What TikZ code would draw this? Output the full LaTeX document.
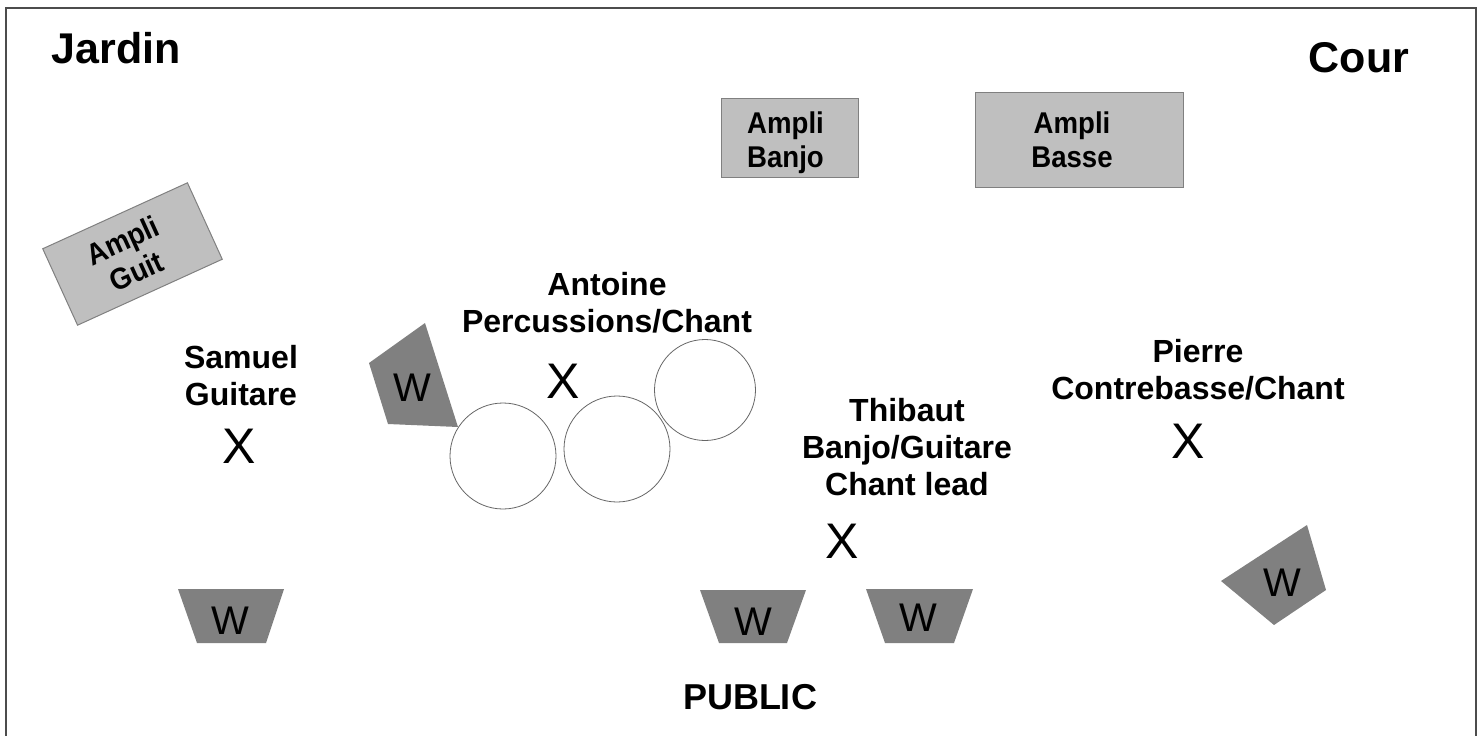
\documentclass[tikz,border=0pt]{standalone}
\usepackage{fontspec}
\setmainfont{Liberation Sans}
\newfontfamily\amplifont[FakeStretch=0.92]{Liberation Sans}
\begin{document}
\begin{tikzpicture}[x=1pt,y=-1pt,
  side/.style={font=\fontsize{43}{50}\selectfont\bfseries},
  lbl/.style={font=\fontsize{32}{37}\selectfont\bfseries, align=center, inner sep=0},
  amplibox/.style={draw=gray, fill=black!25, line width=1pt, inner sep=0},
  amplitxt/.style={inner sep=0, align=center, font=\amplifont\fontsize{30}{34}\selectfont\bfseries},
  wedge/.style={fill=black!50},
  wlbl/.style={font=\fontsize{40}{40}\selectfont, inner sep=0},
  cross/.style={font=\fontsize{50}{50}\selectfont, inner sep=0},
  drum/.style={circle, draw=black!60, fill=white, line width=0.8pt, minimum size=106pt, inner sep=0}]
\useasboundingbox (0,0) rectangle (1484,736);
\draw[black!70, line width=1.2pt] (6,736) -- (6,8) -- (1476,8) -- (1476,736);

\node[side] (jardin) at (116,48) {Jardin};
\node[side] (cour) at (1359,58) {Cour};

% amplis
\node[amplibox, minimum width=137pt, minimum height=79pt] (abanjo) at (789.5,137.5) {};
\node[amplitxt] (tbanjo) at ([shift={(-4,5)}]abanjo.center) {Ampli\\Banjo};
\node[amplibox, minimum width=208pt, minimum height=95pt] (abasse) at (1079,140) {};
\node[amplitxt] (tbasse) at ([shift={(-7,0)}]abasse.center) {Ampli\\Basse};
\node[amplibox, minimum width=159pt, minimum height=84pt, rotate=24.5] (aguit) at (132.5,254) {};
\node[amplitxt, rotate=24.5] (tguit) at ([shift={(-3,2)}]aguit.center) {Ampli\\Guit};

% retours
\fill[wedge] (178,589) -- (284,589) -- (266,643) -- (197,643) -- cycle;
\node[wlbl] (w1) at (230,621) {W};
\fill[wedge] (700,590) -- (806,590) -- (787,643) -- (719,643) -- cycle;
\node[wlbl] (w2) at (753,622) {W};
\fill[wedge] (866,589) -- (973,589) -- (954,643) -- (885,643) -- cycle;
\node[wlbl] (w3) at (918,618) {W};
\fill[wedge] (1221,581) -- (1307,525) -- (1326,590) -- (1274,625) -- cycle;
\node[wlbl] (w4) at (1282,583) {W};
\fill[wedge] (369,363) -- (425,323) -- (458,427) -- (388,424) -- cycle;
\node[wlbl] (w5) at (412,388) {W};

% percussions
\node[drum] (drumA) at (503,456) {};
\node[drum] (drumB) at (617,449) {};
\node[drum, minimum size=101pt] (drumC) at (705,390) {};

% musiciens
\node[lbl] (samuel) at (241,376) {Samuel\\Guitare};
\node[cross] (xsamuel) at (239,446) {X};
\node[lbl] (antoine) at (607,303) {Antoine\\Percussions/Chant};
\node[cross] (xantoine) at (563,381) {X};
\node[lbl] (thibaut) at (907,447) {Thibaut\\Banjo/Guitare\\Chant lead};
\node[cross] (xthibaut) at (842,541) {X};
\node[lbl] (pierre) at (1198,370) {Pierre\\Contrebasse/Chant};
\node[cross] (xpierre) at (1188,441) {X};

\node[font=\fontsize{36}{36}\selectfont\bfseries] (public) at (750,697) {PUBLIC};
\end{tikzpicture}
\end{document}
